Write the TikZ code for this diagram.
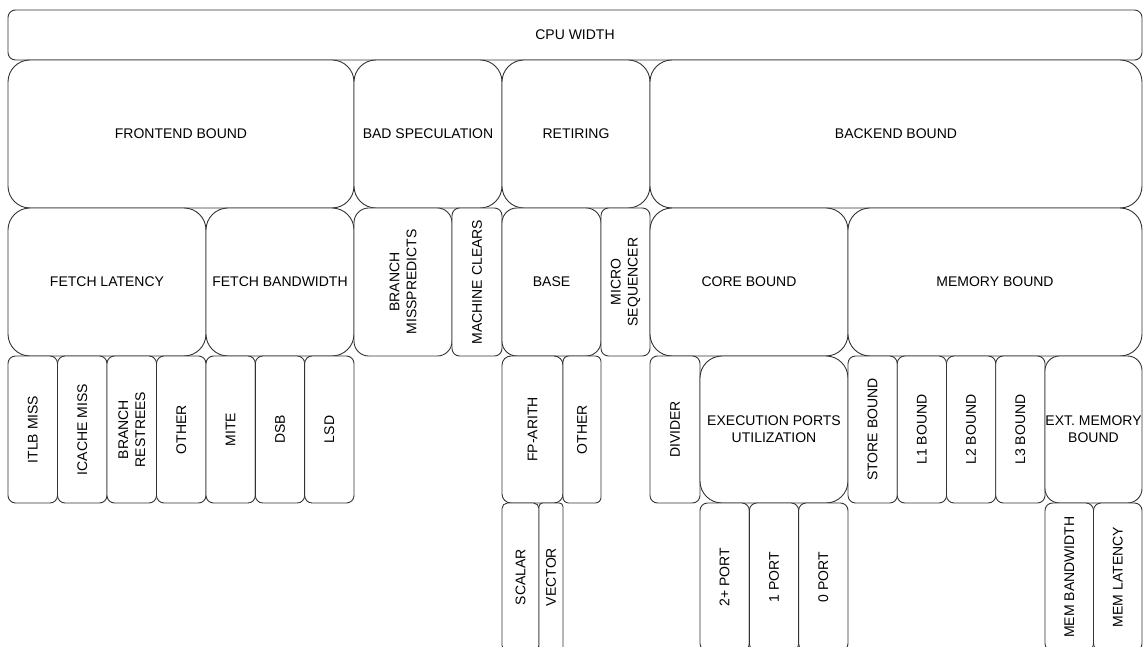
\documentclass[tikz,border=0pt]{standalone}
\usepackage{fontspec}
\setmainfont{Liberation Sans}
\newcommand\cellfont{\fontsize{14}{17}\selectfont}

\begin{document}
\begin{tikzpicture}[x=1pt,y=-1pt,
	cell/.style={draw=black!80, line width=0.9pt, fill=white, inner sep=0pt,
		align=center, font=\cellfont, rounded corners=#1},
	cell/.default=7.5pt,
	vcell/.style={cell=#1, rotate=90},
	vcell/.default=7.5pt,
	dims/.style 2 args={minimum width=#1, minimum height=#2},
]
	\clip (0,0) rectangle (1143,647);

	\node[cell, dims={1134}{50}] (cpu) at (575,35) {CPU WIDTH};

	\node[cell=22pt, dims={346}{148}] (fe) at (181,134) {FRONTEND BOUND};
	\node[cell=22pt, dims={148}{148}] (bs) at (428,134) {BAD SPECULATION};
	\node[cell=22pt, dims={148}{148}] (ret) at (576,134) {RETIRING};
	\node[cell=22pt, dims={492}{148}] (be) at (896,134) {BACKEND BOUND};

	\node[cell=22pt, dims={198}{148}] (flat) at (107,282) {FETCH LATENCY};
	\node[cell=22pt, dims={148}{148}] (fbw) at (280,282) {FETCH BANDWIDTH};
	\node[vcell=14.7pt, dims={148}{98}] (bmp) at (403,282) {BRANCH\\MISSPREDICTS};
	\node[vcell, dims={148}{50}] (mcl) at (477,282) {MACHINE CLEARS};
	\node[cell=14.8pt, dims={99}{148}] (base) at (551.5,282) {BASE};
	\node[vcell, dims={148}{49}] (mseq) at (625.5,282) {MICRO\\SEQUENCER};
	\node[cell=22pt, dims={198}{148}] (core) at (749,282) {CORE BOUND};
	\node[cell=22pt, dims={294}{148}] (mem) at (995,282) {MEMORY BOUND};

	\foreach \lbl [count=\i from 0] in {ITLB MISS, ICACHE MISS, {BRANCH\\RESTREES}, OTHER}
		\node[vcell, dims={147}{49.5}] (flat\i) at ({8+49.5*(\i+0.5)},429.5) {\lbl};
	\foreach \lbl [count=\i from 0] in {MITE, DSB, LSD}
		\node[vcell, dims={147}{49.33}] (fbw\i) at ({206+49.33*(\i+0.5)},429.5) {\lbl};
	\node[vcell=9pt, dims={147}{61}] (fpa) at (532.5,429.5) {FP-ARITH};
	\node[vcell=5.7pt, dims={147}{38}] (bother) at (582,429.5) {OTHER};
	\node[vcell, dims={147}{50}] (div) at (675,429.5) {DIVIDER};
	\node[cell=22pt, dims={148}{147}] (epu) at (774,429.5) {EXECUTION PORTS\\UTILIZATION};
	\foreach \lbl [count=\i from 0] in {STORE BOUND, L1 BOUND, L2 BOUND, L3 BOUND}
		\node[vcell, dims={147}{49.25}] (mem\i) at ({848+49.25*(\i+0.5)},429.5) {\lbl};
	\node[cell=14.5pt, dims={97}{147}] (ext) at (1093.5,429.5) {EXT. MEMORY\\BOUND};

	\node[vcell=5.5pt, dims={148}{37}] (scal) at (520.5,577) {SCALAR};
	\node[vcell=3.6pt, dims={148}{24}] (vect) at (551,577) {VECTOR};
	\foreach \lbl [count=\i from 0] in {2+ PORT, 1 PORT, 0 PORT}
		\node[vcell, dims={148}{49.33}] (port\i) at ({700+49.33*(\i+0.5)},577) {\lbl};
	\foreach \lbl [count=\i from 0] in {MEM BANDWIDTH, MEM LATENCY}
		\node[vcell, dims={148}{48.5}] (ext\i) at ({1045+48.5*(\i+0.5)},577) {\lbl};
\end{tikzpicture}
\end{document}
